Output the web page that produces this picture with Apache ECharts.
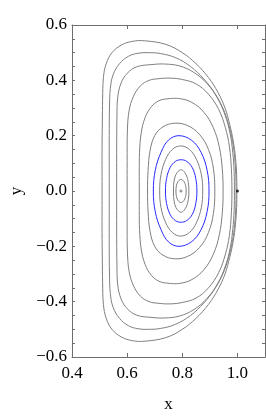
<!DOCTYPE html>
<html><head><meta charset="utf-8">
<script src="https://cdn.jsdelivr.net/npm/echarts@6/dist/echarts.min.js"></script>
<style>html,body{margin:0;padding:0;background:#fff}#c{width:266px;height:418px}</style>
</head><body><div id="c"></div>
<script>
// Axis ranges / tick labels
const xRange = [0.4, 1.1];
const yRange = [-0.6, 0.6];
const xLabels = ['0.4', '0.6', '0.8', '1.0'];
const yLabels = ['\u22120.6', '\u22120.4', '\u22120.2', '0.0', '0.2', '0.4', '0.6'];

// Contour rings (closed loops, last point joins the first), innermost first
const ring1 = [[0.814,0],[0.812,0.02],[0.806,0.034],[0.796,0.042],[0.786,0.036],[0.779,0.021],[0.777,0],
  [0.779,-0.021],[0.786,-0.036],[0.796,-0.042],[0.806,-0.034],[0.812,-0.02]];
const ring2 = [[0.824,0],[0.822,0.03],[0.814,0.058],[0.797,0.077],[0.781,0.066],[0.771,0.04],[0.768,0],
  [0.771,-0.04],[0.781,-0.066],[0.797,-0.077],[0.814,-0.058],[0.822,-0.03]];
const ring3 = [[0.853,0],[0.849,0.045],[0.836,0.085],[0.816,0.107],[0.796,0.113],[0.775,0.107],[0.756,0.085],[0.743,0.045],[0.739,0],
  [0.743,-0.045],[0.756,-0.085],[0.775,-0.107],[0.796,-0.113],[0.816,-0.107],[0.836,-0.085],[0.849,-0.045]];
const ring4 = [[0.874,0],[0.869,0.06],[0.851,0.115],[0.826,0.15],[0.794,0.163],[0.764,0.15],[0.74,0.115],[0.723,0.06],[0.718,0],
  [0.723,-0.06],[0.74,-0.115],[0.764,-0.15],[0.794,-0.163],[0.826,-0.15],[0.851,-0.115],[0.869,-0.06]];
const ring5 = [[0.897,0],[0.89,0.075],[0.868,0.14],[0.834,0.183],[0.788,0.2],[0.75,0.184],[0.723,0.14],[0.702,0.075],[0.695,0],
  [0.702,-0.075],[0.723,-0.14],[0.75,-0.184],[0.788,-0.2],[0.834,-0.183],[0.868,-0.14],[0.89,-0.075]];
const ring6 = [[0.918,0],[0.913,0.08],[0.895,0.15],[0.862,0.205],[0.818,0.237],[0.772,0.245],[0.73,0.232],[0.7,0.2],[0.683,0.145],[0.676,0.075],[0.674,0],
  [0.676,-0.075],[0.683,-0.145],[0.7,-0.2],[0.73,-0.232],[0.772,-0.245],[0.818,-0.237],[0.862,-0.205],[0.895,-0.15],[0.913,-0.08]];
const ring7 = [[0.948,0],[0.945,0.08],[0.934,0.16],[0.912,0.23],[0.878,0.285],[0.835,0.32],[0.79,0.334],[0.745,0.333],[0.715,0.326],[0.688,0.305],[0.665,0.265],[0.651,0.21],[0.645,0.14],[0.644,0.07],[0.644,0],
  [0.644,-0.07],[0.645,-0.14],[0.651,-0.21],[0.665,-0.265],[0.688,-0.305],[0.715,-0.326],[0.745,-0.333],[0.79,-0.334],[0.835,-0.32],[0.878,-0.285],[0.912,-0.23],[0.934,-0.16],[0.945,-0.08]];
const ring8 = [[0.98,0],[0.978,0.08],[0.971,0.16],[0.956,0.23],[0.932,0.295],[0.895,0.35],[0.85,0.387],[0.8,0.403],[0.755,0.408],[0.715,0.406],[0.68,0.4],[0.648,0.38],[0.622,0.34],[0.607,0.29],[0.601,0.22],[0.6,0.11],[0.6,0],
  [0.6,-0.11],[0.601,-0.22],[0.607,-0.29],[0.622,-0.34],[0.648,-0.38],[0.68,-0.4],[0.715,-0.406],[0.755,-0.408],[0.8,-0.403],[0.85,-0.387],[0.895,-0.35],[0.932,-0.295],[0.956,-0.23],[0.971,-0.16],[0.978,-0.08]];
const ring9 = [[0.989,0],[0.988,0.07],[0.983,0.14],[0.973,0.21],[0.955,0.275],[0.928,0.335],[0.89,0.388],[0.843,0.428],[0.79,0.452],[0.735,0.459],[0.69,0.457],[0.635,0.449],[0.6,0.425],[0.578,0.39],[0.566,0.34],[0.563,0.27],[0.562,0.14],[0.562,0],
  [0.562,-0.14],[0.563,-0.27],[0.566,-0.34],[0.578,-0.39],[0.6,-0.425],[0.635,-0.449],[0.69,-0.457],[0.735,-0.459],[0.79,-0.452],[0.843,-0.428],[0.89,-0.388],[0.928,-0.335],[0.955,-0.275],[0.973,-0.21],[0.983,-0.14],[0.988,-0.07]];
const ring10 = [[0.995,0],[0.994,0.06],[0.99,0.12],[0.982,0.18],[0.968,0.24],[0.947,0.3],[0.917,0.355],[0.878,0.405],[0.83,0.45],[0.775,0.482],[0.72,0.497],[0.676,0.5],[0.64,0.498],[0.605,0.487],[0.572,0.46],[0.549,0.42],[0.539,0.37],[0.536,0.3],[0.535,0.2],[0.535,0.1],[0.535,0],
  [0.535,-0.1],[0.535,-0.2],[0.536,-0.3],[0.539,-0.37],[0.549,-0.42],[0.572,-0.46],[0.605,-0.487],[0.64,-0.498],[0.676,-0.5],[0.72,-0.497],[0.775,-0.482],[0.83,-0.45],[0.878,-0.405],[0.917,-0.355],[0.947,-0.3],[0.968,-0.24],[0.982,-0.18],[0.99,-0.12],[0.994,-0.06]];
const ring11 = [[0.998,0],[0.997,0.06],[0.993,0.12],[0.985,0.18],[0.972,0.24],[0.955,0.3],[0.93,0.355],[0.895,0.41],[0.85,0.46],[0.8,0.5],[0.74,0.53],[0.663,0.543],[0.62,0.541],[0.58,0.528],[0.545,0.5],[0.524,0.46],[0.514,0.41],[0.511,0.33],[0.51,0.25],[0.509,0.15],[0.509,0.07],[0.509,0],
  [0.509,-0.07],[0.509,-0.15],[0.51,-0.25],[0.511,-0.33],[0.514,-0.41],[0.524,-0.46],[0.545,-0.5],[0.58,-0.528],[0.62,-0.541],[0.663,-0.543],[0.74,-0.53],[0.8,-0.5],[0.85,-0.46],[0.895,-0.41],[0.93,-0.355],[0.955,-0.3],[0.972,-0.24],[0.985,-0.18],[0.993,-0.12],[0.997,-0.06]];

const rings = [ring1, ring2, ring3, ring4, ring5, ring6, ring7, ring8, ring9, ring10, ring11];
const ringColors = ['gray','gray','blue','gray','blue','gray','gray','gray','gray','gray','gray'];
const axisPoint = [[0.795, 0]];
const xPoint = [[1.0, 0]];

const GRAY = '#808080', BLUE = '#2a2aff', FRAME = '#6e6e6e';
const font = 'Liberation Serif';

function fmt(v) {
  const r = Math.round(v * 10) / 10;
  if (Math.abs(r) < 1e-9) return '0.0';
  return r < 0 ? '\u2212' + (-r).toFixed(1) : r.toFixed(1);
}

function ringSeries(points, color) {
  return {
    type: 'custom', coordinateSystem: 'cartesian2d', xAxisIndex: 0, yAxisIndex: 0,
    data: points, encode: { x: 0, y: 1 }, silent: true, z: 2,
    renderItem: (params, api) => {
      if (params.dataIndex !== 0) return null;
      const pts = points.map(p => api.coord(p));
      return { type: 'polygon', shape: { points: pts, smooth: 0.38 },
        style: { fill: 'none', stroke: color, lineWidth: 1 } };
    }
  };
}

const frameAxisLine = { show: true, onZero: false, lineStyle: { color: FRAME, width: 1 } };
const chart = echarts.init(document.getElementById('c'), null, { renderer: 'canvas' });
const series = rings.map((r, i) => ringSeries(r, ringColors[i] === 'blue' ? BLUE : GRAY));
series.push({ type: 'scatter', data: axisPoint, symbolSize: 3, itemStyle: { color: GRAY }, silent: true, z: 3 });
series.push({ type: 'scatter', data: xPoint, symbolSize: 3, itemStyle: { color: '#000' }, silent: true, z: 3 });

chart.setOption({
  animation: false,
  backgroundColor: '#fff',
  grid: { left: 70, right: 1, top: 25, bottom: 56, containLabel: false },
  xAxis: [
    { type: 'value', min: xRange[0], max: xRange[1], interval: 0.2, position: 'bottom',
      axisLine: frameAxisLine, axisTick: { show: true, inside: true, length: 4, lineStyle: { color: FRAME } },
      splitLine: { show: false },
      axisLabel: { color: '#000', fontFamily: font, fontSize: 17, margin: 8, showMaxLabel: false,
        formatter: v => { const s = fmt(v); return xLabels.includes(s) ? s : ''; } },
      name: 'x', nameLocation: 'middle', nameGap: 39,
      nameTextStyle: { color: '#000', fontFamily: font, fontSize: 17 } },
    { type: 'value', min: xRange[0], max: xRange[1], interval: 0.2, position: 'top',
      axisLine: frameAxisLine, axisTick: { show: true, inside: true, length: 4, lineStyle: { color: FRAME } },
      splitLine: { show: false }, axisLabel: { show: false } }
  ],
  yAxis: [
    { type: 'value', min: yRange[0], max: yRange[1], interval: 0.2, position: 'left',
      axisLine: frameAxisLine, axisTick: { show: true, inside: true, length: 3, lineStyle: { color: FRAME } },
      minorTick: { show: true, splitNumber: 4, length: 3, lineStyle: { color: FRAME } },
      splitLine: { show: false }, minorSplitLine: { show: false },
      axisLabel: { color: '#000', fontFamily: font, fontSize: 17, margin: 5,
        formatter: v => { const s = fmt(v); return yLabels.includes(s) ? s : ''; } },
      name: 'y', nameLocation: 'middle', nameGap: 47, nameRotate: 90,
      nameTextStyle: { color: '#000', fontFamily: font, fontSize: 17 } },
    { type: 'value', min: yRange[0], max: yRange[1], interval: 0.2, position: 'right',
      axisLine: frameAxisLine, axisTick: { show: true, inside: true, length: 3, lineStyle: { color: FRAME } },
      minorTick: { show: true, splitNumber: 4, length: 3, lineStyle: { color: FRAME } },
      splitLine: { show: false }, minorSplitLine: { show: false }, axisLabel: { show: false } }
  ],
  series: series
});
</script>
</body></html>
